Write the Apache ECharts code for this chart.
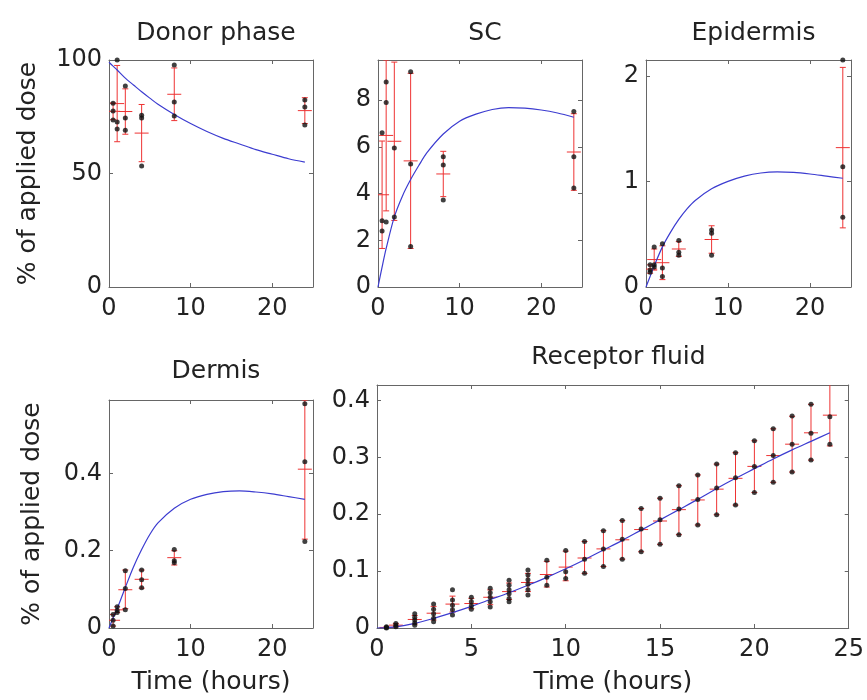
<!DOCTYPE html>
<html>
<head>
<meta charset="utf-8">
<script src="https://cdn.jsdelivr.net/npm/echarts@6/dist/echarts.min.js"></script>
<style>
  html, body { margin: 0; padding: 0; background: #fff; }
  #chart { width: 867px; height: 700px; }
</style>
</head>
<body>
<div id="chart"></div>
<script>
// sampling times (hours)
var tSkin = [0.5, 1, 2, 4, 8, 24];
var tRecep = [0.5, 1, 2, 3, 4, 5, 6, 7, 8, 9, 10, 11, 12, 13, 14, 15, 16, 17, 18, 19, 20, 21, 22, 23, 24];
var tFit = [0, 0.5, 1, 2, 3, 4, 5, 6, 8, 10, 12, 14, 16, 18, 20, 22, 24];

// Donor phase
var donorDots = [[81, 77.5, 73.6], [100, 72.7, 69.6], [88.5, 74.4, 69], [75.7, 74.4, 53.3], [97.8, 81.5, 75.3], [82.4, 79.3, 71.4]];
var donorMean = [77.4, 80.8, 77.3, 67.8, 84.9, 77.7];
var donorLow = [73.7, 64, 67.3, 55.2, 73.3, 72];
var donorHigh = [81.1, 97.6, 87.3, 80.4, 96.5, 83.4];
var donorFit = [99, 97.3, 95.6, 92, 89, 86, 83.2, 80.5, 76, 72, 68.5, 65.5, 63, 60.5, 58.5, 56.5, 55];

// SC
var scDots = [[6.6, 2.84, 2.4], [8.78, 7.9, 2.78], [9.76, 5.95, 3.0], [9.22, 5.27, 1.73], [5.58, 5.22, 3.73], [7.51, 5.58, 4.24]];
var scMean = [3.95, 6.49, 6.24, 5.4, 4.84, 5.78];
var scLow = [1.65, 3.26, 2.85, 1.65, 3.87, 4.14];
var scHigh = [6.25, 9.72, 9.63, 9.15, 5.81, 7.42];
var scFit = [0, 0.85, 1.65, 3.0, 3.9, 4.6, 5.2, 5.75, 6.55, 7.1, 7.4, 7.6, 7.68, 7.66, 7.58, 7.45, 7.27];

// Epidermis
var epiDots = [[0.21, 0.16, 0.14], [0.38, 0.21, 0.19], [0.41, 0.18, 0.1], [0.44, 0.33, 0.3], [0.54, 0.51, 0.3], [2.15, 1.14, 0.66]];
var epiMean = [0.17, 0.26, 0.23, 0.36, 0.45, 1.32];
var epiLow = [0.13, 0.16, 0.07, 0.29, 0.32, 0.56];
var epiHigh = [0.21, 0.36, 0.39, 0.43, 0.58, 2.08];
var epiFit = [0, 0.1, 0.2, 0.38, 0.52, 0.64, 0.74, 0.82, 0.93, 1.0, 1.05, 1.08, 1.09, 1.085, 1.07, 1.05, 1.03];

// Dermis
var dermDots = [[0.035, 0.02, 0.005], [0.055, 0.045, 0.04], [0.148, 0.102, 0.047], [0.15, 0.125, 0.104], [0.203, 0.174, 0.169], [0.58, 0.43, 0.224]];
var dermMean = [0.02, 0.047, 0.099, 0.126, 0.182, 0.411];
var dermLow = [0.005, 0.04, 0.05, 0.103, 0.163, 0.23];
var dermHigh = [0.035, 0.055, 0.15, 0.15, 0.2, 0.59];
var dermFit = [0, 0.026, 0.05, 0.105, 0.158, 0.203, 0.242, 0.272, 0.31, 0.333, 0.346, 0.353, 0.355, 0.352, 0.347, 0.34, 0.333];

// Receptor fluid
var recDots = [
  [0.002, 0.001, 0.0], [0.008, 0.005, 0.002], [0.025, 0.019, 0.014, 0.009, 0.005],
  [0.042, 0.033, 0.025, 0.017, 0.011], [0.067, 0.049, 0.04, 0.032, 0.023], [0.054, 0.046, 0.039, 0.033],
  [0.07, 0.062, 0.054, 0.046, 0.037], [0.084, 0.075, 0.067, 0.06, 0.052, 0.046],
  [0.102, 0.093, 0.085, 0.077, 0.067, 0.058], [0.119, 0.089, 0.075], [0.136, 0.099, 0.087],
  [0.152, 0.121, 0.096], [0.171, 0.139, 0.108], [0.189, 0.156, 0.121], [0.21, 0.174, 0.134],
  [0.228, 0.19, 0.147], [0.25, 0.209, 0.164], [0.269, 0.226, 0.181], [0.288, 0.246, 0.199],
  [0.308, 0.264, 0.216], [0.329, 0.284, 0.238], [0.35, 0.303, 0.256], [0.3725, 0.323, 0.274],
  [0.393, 0.342, 0.295], [0.429, 0.371, 0.323]
];
var recMean = [0.001, 0.005, 0.015, 0.026, 0.042, 0.043, 0.054, 0.064, 0.08, 0.094, 0.107, 0.123, 0.139, 0.155, 0.173, 0.188, 0.208, 0.225, 0.244, 0.263, 0.284, 0.303, 0.323, 0.343, 0.374];
var recLow = [0, 0.002, 0.007, 0.014, 0.028, 0.034, 0.041, 0.05, 0.064, 0.072, 0.083, 0.096, 0.108, 0.121, 0.134, 0.147, 0.164, 0.181, 0.199, 0.216, 0.238, 0.256, 0.274, 0.295, 0.32];
var recHigh = [0.002, 0.008, 0.022, 0.038, 0.056, 0.052, 0.067, 0.079, 0.096, 0.117, 0.135, 0.152, 0.171, 0.189, 0.21, 0.228, 0.25, 0.269, 0.288, 0.308, 0.329, 0.35, 0.372, 0.393, 0.428];
var tRecFit = [0, 1, 2, 3, 4, 5, 6, 7, 8, 9, 10, 11, 12, 13, 14, 15, 16, 17, 18, 19, 20, 21, 22, 23, 24];
var recFit = [0, 0.002, 0.008, 0.017, 0.027, 0.038, 0.05, 0.062, 0.075, 0.089, 0.104, 0.12, 0.137, 0.154, 0.172, 0.19, 0.208, 0.226, 0.245, 0.263, 0.28, 0.297, 0.313, 0.328, 0.343];

var FONT = "DejaVu Sans";
var FRAME = "#666";
var RED = "#ee3333";
var BLUE = "#3c3cd0";

var panels = [
  { title: "Donor phase", grid: [109, 60, 204, 227], t: tSkin, dots: donorDots, mean: donorMean, low: donorLow, high: donorHigh, ft: tFit, fit: donorFit, ymax: 100, yint: 50, xint: 10, ylab: true, xlab: false, titleTop: 16 },
  { title: "SC", grid: [378, 60, 204, 227], t: tSkin, dots: scDots, mean: scMean, low: scLow, high: scHigh, ft: tFit, fit: scFit, ymax: 9.72, yint: 2, xint: 10, ylab: false, xlab: false, titleTop: 16 },
  { title: "Epidermis", grid: [646, 60, 205, 227], t: tSkin, dots: epiDots, mean: epiMean, low: epiLow, high: epiHigh, ft: tFit, fit: epiFit, ymax: 2.15, yint: 1, xint: 10, ylab: false, xlab: false, titleTop: 16 },
  { title: "Dermis", grid: [109, 400, 204, 228], t: tSkin, dots: dermDots, mean: dermMean, low: dermLow, high: dermHigh, ft: tFit, fit: dermFit, ymax: 0.59, yint: 0.2, xint: 10, ylab: true, xlab: true, titleTop: 354 },
  { title: "Receptor fluid", grid: [377, 385, 473, 243], t: tRecep, dots: recDots, mean: recMean, low: recLow, high: recHigh, ft: tRecFit, fit: recFit, ymax: 0.427, yint: 0.1, xint: 5, ylab: false, xlab: true, titleTop: 340 }
];

function multipleOnly(step) {
  return function (v) {
    var r = v / step;
    return Math.abs(r - Math.round(r)) < 1e-6 ? String(+v.toFixed(4)) : "";
  };
}

function errItem(params, api) {
  var x = api.value(0);
  var lo = api.coord([x, api.value(1)]);
  var hi = api.coord([x, api.value(2)]);
  var mid = api.coord([x, api.value(3)]);
  var st = { stroke: RED, lineWidth: 1 };
  return {
    type: "group",
    children: [
      { type: "line", shape: { x1: lo[0], y1: lo[1], x2: hi[0], y2: hi[1] }, style: st },
      { type: "line", shape: { x1: lo[0] - 3, y1: lo[1], x2: lo[0] + 3, y2: lo[1] }, style: st },
      { type: "line", shape: { x1: hi[0] - 3, y1: hi[1], x2: hi[0] + 3, y2: hi[1] }, style: st },
      { type: "line", shape: { x1: mid[0] - 7, y1: mid[1], x2: mid[0] + 7, y2: mid[1] }, style: st }
    ]
  };
}

var grids = [], xAxes = [], yAxes = [], series = [], titles = [];
var tickStyle = { inside: true, length: 4, lineStyle: { color: FRAME } };
var frameLine = { show: true, onZero: false, lineStyle: { color: FRAME, width: 1 } };

panels.forEach(function (p, i) {
  var g = p.grid;
  grids.push({ left: g[0], top: g[1], width: g[2], height: g[3] });
  titles.push({
    text: p.title, left: g[0] + g[2] / 2, top: p.titleTop, textAlign: "center",
    textStyle: { fontFamily: FONT, fontSize: 25, fontWeight: "normal", color: "#222" }
  });

  xAxes.push({
    type: "value", gridIndex: i, position: "bottom", min: 0, max: 25, interval: p.xint,
    axisLine: frameLine, axisTick: tickStyle, splitLine: { show: false },
    axisLabel: { formatter: multipleOnly(p.xint), fontFamily: FONT, fontSize: 24, color: "#222", margin: 10 },
    name: p.xlab ? "Time (hours)" : "", nameLocation: "middle", nameGap: 42,
    nameTextStyle: { fontFamily: FONT, fontSize: 25, color: "#222" }
  });
  xAxes.push({
    type: "value", gridIndex: i, position: "top", min: 0, max: 25, interval: p.xint,
    axisLine: frameLine, axisTick: tickStyle, splitLine: { show: false }, axisLabel: { show: false }
  });
  yAxes.push({
    type: "value", gridIndex: i, position: "left", min: 0, max: p.ymax, interval: p.yint,
    axisLine: frameLine, axisTick: tickStyle, splitLine: { show: false },
    axisLabel: { formatter: multipleOnly(p.yint), fontFamily: FONT, fontSize: 24, color: "#222", margin: 7 },
    name: p.ylab ? "% of applied dose" : "", nameLocation: "middle", nameGap: i === 0 ? 68 : 64,
    nameTextStyle: { fontFamily: FONT, fontSize: 25, color: "#222" }
  });
  yAxes.push({
    type: "value", gridIndex: i, position: "right", min: 0, max: p.ymax, interval: p.yint,
    axisLine: frameLine, axisTick: tickStyle, splitLine: { show: false }, axisLabel: { show: false }
  });

  var errData = p.t.map(function (t, k) { return [t, p.low[k], p.high[k], p.mean[k]]; });
  var dotData = [];
  p.t.forEach(function (t, k) {
    p.dots[k].forEach(function (v) { dotData.push([t, v]); });
  });
  var fitData = p.ft.map(function (t, k) { return [t, p.fit[k]]; });

  series.push({
    type: "custom", xAxisIndex: 2 * i, yAxisIndex: 2 * i, data: errData,
    renderItem: errItem, clip: true, z: 2, silent: true
  });
  series.push({
    type: "line", xAxisIndex: 2 * i, yAxisIndex: 2 * i, data: fitData, smooth: 0.3,
    showSymbol: false, lineStyle: { color: BLUE, width: 1.2 }, z: 3, silent: true
  });
  series.push({
    type: "scatter", xAxisIndex: 2 * i, yAxisIndex: 2 * i, data: dotData,
    symbol: "circle", symbolSize: 5, itemStyle: { color: "#111" }, z: 4, silent: true
  });
});

var chart = echarts.init(document.getElementById("chart"), null, { renderer: "canvas" });
chart.setOption({
  animation: false,
  backgroundColor: "#fff",
  title: titles,
  grid: grids,
  xAxis: xAxes,
  yAxis: yAxes,
  series: series
});
</script>
</body>
</html>
